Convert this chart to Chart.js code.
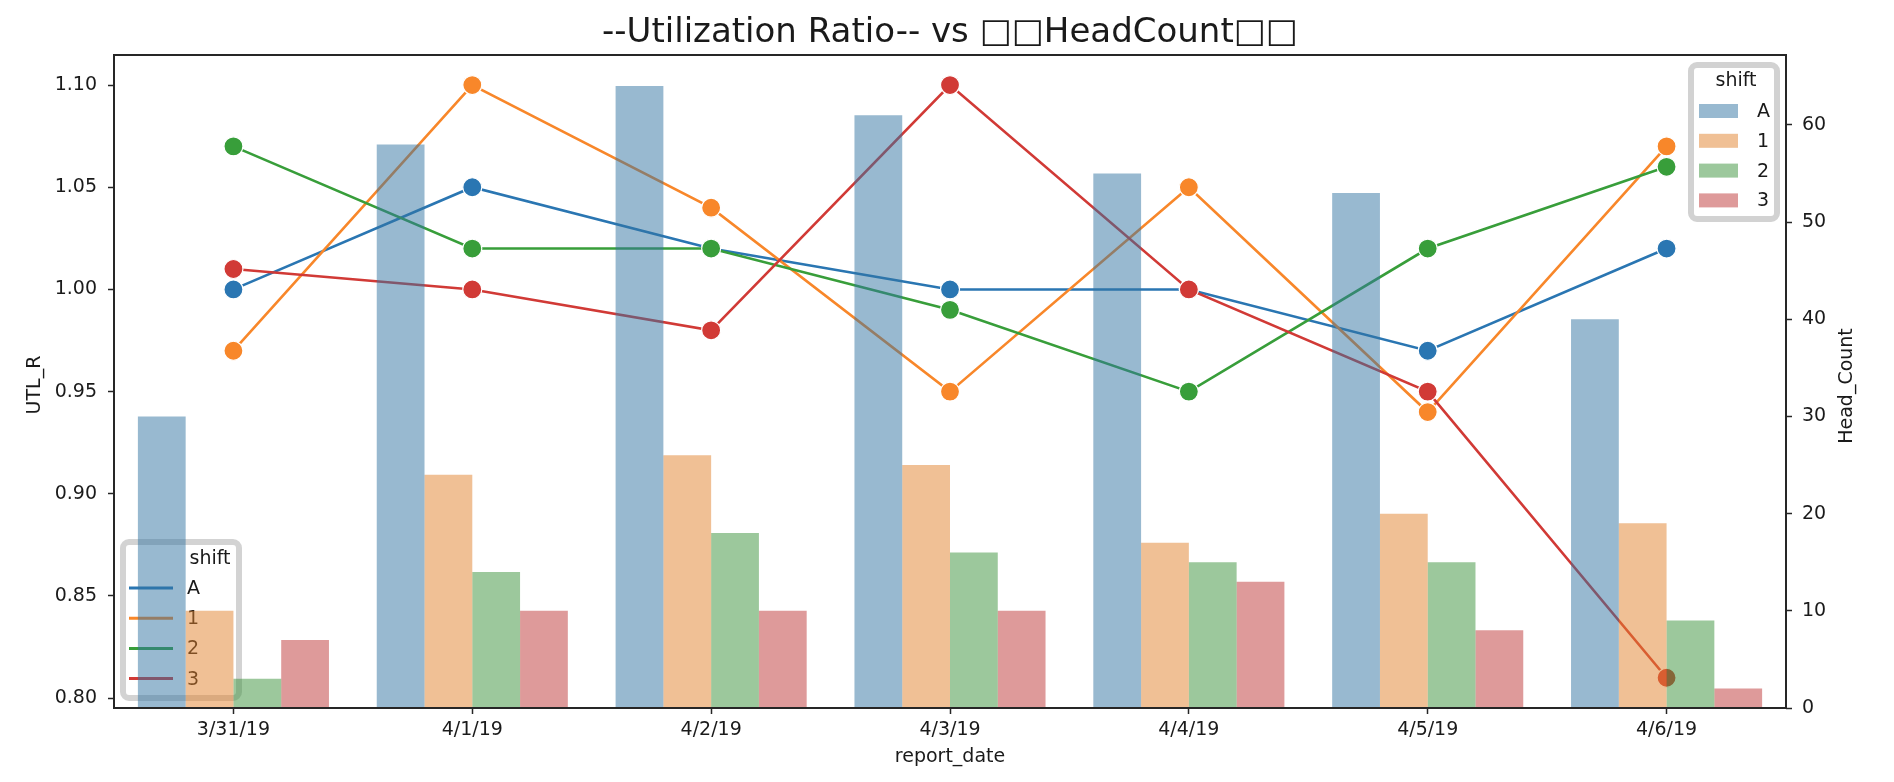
<!DOCTYPE html>
<html>
<head>
<meta charset="utf-8">
<script src="https://cdn.jsdelivr.net/npm/chart.js@4.4.1/dist/chart.umd.min.js"></script>
<style>
  html, body { margin: 0; padding: 0; background: #fff; overflow: hidden; }
  canvas { display: block; }
</style>
</head>
<body>
<canvas id="chart" width="1894" height="782" style="width:1894px;height:782px"></canvas>
<script>
// data
const dates = ['3/31/19', '4/1/19', '4/2/19', '4/3/19', '4/4/19', '4/5/19', '4/6/19'];
const shifts = ['A', '1', '2', '3'];

const headA = [30, 58, 64, 61, 55, 53, 40];
const head1 = [10, 24, 26, 25, 17, 20, 19];
const head2 = [3, 14, 18, 16, 15, 15, 9];
const head3 = [7, 10, 10, 10, 13, 8, 2];

const utlA = [1.00, 1.05, 1.02, 1.00, 1.00, 0.97, 1.02];
const utl1 = [0.97, 1.10, 1.04, 0.95, 1.05, 0.94, 1.07];
const utl2 = [1.07, 1.02, 1.02, 0.99, 0.95, 1.02, 1.06];
const utl3 = [1.01, 1.00, 0.98, 1.10, 1.00, 0.95, 0.81];

const utlTicks = [0.80, 0.85, 0.90, 0.95, 1.00, 1.05, 1.10];
const headTicks = [0, 10, 20, 30, 40, 50, 60];

const lineColors = ['#2a76b2', '#f8872a', '#389e3a', '#d13a36'];
const barColors = ['rgba(50,116,161,0.5)', 'rgba(225,129,44,0.5)', 'rgba(58,146,58,0.5)', 'rgba(192,61,62,0.52)'];

const FONT = '"DejaVu Sans", sans-serif';
const TEXT = '#1a1a1a';
Chart.defaults.font.family = FONT;
Chart.defaults.color = TEXT;

const heads = [headA, head1, head2, head3];
const utls = [utlA, utl1, utl2, utl3];

const datasets = [];
shifts.forEach((s, i) => {
    datasets.push({
        type: 'bar',
        label: s,
        data: heads[i],
        yAxisID: 'y1',
        backgroundColor: barColors[i],
        borderWidth: 0,
        categoryPercentage: 0.8,
        barPercentage: 1.0,
        order: 1 + i
    });
});
shifts.forEach((s, i) => {
    datasets.push({
        type: 'line',
        label: s,
        data: utls[i],
        yAxisID: 'y',
        borderColor: lineColors[i],
        borderWidth: 2.6,
        pointRadius: 9.5,
        pointBackgroundColor: lineColors[i],
        pointBorderColor: '#ffffff',
        pointBorderWidth: 1.2,
        tension: 0,
        fill: false,
        order: 8 - i
    });
});

function roundRect(ctx, x, y, w, h, r) {
    ctx.beginPath();
    ctx.moveTo(x + r, y);
    ctx.arcTo(x + w, y, x + w, y + h, r);
    ctx.arcTo(x + w, y + h, x, y + h, r);
    ctx.arcTo(x, y + h, x, y, r);
    ctx.arcTo(x, y, x + w, y, r);
    ctx.closePath();
}

// line legend sits under the bars, bar legend on top of everything
const legendsPlugin = {
    id: 'legends',
    beforeDatasetsDraw(chart) {
        const ctx = chart.ctx;
        ctx.save();
        roundRect(ctx, 123, 542, 116, 156, 6);
        ctx.fillStyle = 'rgba(255,255,255,0.8)';
        ctx.fill();
        ctx.lineWidth = 6;
        ctx.strokeStyle = 'rgba(200,200,200,0.8)';
        ctx.stroke();
        ctx.font = '19px ' + FONT;
        ctx.fillStyle = TEXT;
        ctx.textBaseline = 'middle';
        ctx.textAlign = 'center';
        ctx.fillText('shift', 210, 559);
        ctx.textAlign = 'left';
        shifts.forEach((s, i) => {
            const y = 588 + i * 30.2;
            ctx.strokeStyle = lineColors[i];
            ctx.lineWidth = 3;
            ctx.beginPath();
            ctx.moveTo(129, y);
            ctx.lineTo(173, y);
            ctx.stroke();
            ctx.fillStyle = TEXT;
            ctx.fillText(s, 187, y + 1);
        });
        ctx.restore();
    },
    afterDatasetsDraw(chart) {
        const ctx = chart.ctx;
        const a = chart.chartArea;
        ctx.save();
        // frame
        ctx.strokeStyle = '#262626';
        ctx.lineWidth = 2;
        ctx.strokeRect(a.left, a.top, a.right - a.left, a.bottom - a.top);

        roundRect(ctx, 1691, 65, 86, 154, 6);
        ctx.fillStyle = '#ffffff';
        ctx.fill();
        ctx.lineWidth = 6;
        ctx.strokeStyle = '#d2d2d2';
        ctx.stroke();
        ctx.font = '19px ' + FONT;
        ctx.fillStyle = TEXT;
        ctx.textBaseline = 'middle';
        ctx.textAlign = 'center';
        ctx.fillText('shift', 1736, 81);
        ctx.textAlign = 'left';
        shifts.forEach((s, i) => {
            const y = 111 + i * 29.8;
            ctx.fillStyle = barColors[i];
            ctx.fillRect(1699, y - 7, 39, 14);
            ctx.fillStyle = TEXT;
            ctx.fillText(s, 1757, y + 1);
        });
        ctx.restore();
    },
    afterDraw(chart) {
        const ctx = chart.ctx;
        ctx.save();
        ctx.fillStyle = TEXT;
        ctx.textAlign = 'center';
        ctx.textBaseline = 'middle';
        ctx.font = '34px ' + FONT;
        ctx.fillText('--Utilization Ratio-- vs \u25A1\u25A1HeadCount\u25A1\u25A1', 950, 33);
        ctx.font = '19px ' + FONT;
        ctx.fillText('report_date', 950, 757);
        ctx.translate(35, 385);
        ctx.rotate(-Math.PI / 2);
        ctx.fillText('UTL_R', 0, 0);
        ctx.restore();
        ctx.save();
        ctx.fillStyle = TEXT;
        ctx.textAlign = 'center';
        ctx.textBaseline = 'middle';
        ctx.font = '19px ' + FONT;
        ctx.translate(1847, 386);
        ctx.rotate(-Math.PI / 2);
        ctx.fillText('Head_Count', 0, 0);
        ctx.restore();
    }
};

const tickGrid = { display: true, drawOnChartArea: false, drawTicks: true, tickLength: 6, tickWidth: 1.5, tickColor: '#262626', offset: false };

new Chart(document.getElementById('chart'), {
    data: { labels: dates, datasets },
    options: {
        responsive: false,
        devicePixelRatio: 1,
        animation: false,
        layout: { padding: { top: 55, left: 0, right: 0, bottom: 0 } },
        plugins: { legend: { display: false }, title: { display: false }, tooltip: { enabled: false } },
        scales: {
            x: {
                type: 'category',
                offset: true,
                grid: tickGrid,
                border: { display: false },
                ticks: { font: { size: 19 }, color: TEXT, padding: 5, maxRotation: 0 },
                afterFit: s => { s.height = 74; }
            },
            y: {
                type: 'linear',
                position: 'left',
                min: 0.7952,
                max: 1.1147,
                grid: tickGrid,
                border: { display: false },
                afterBuildTicks: s => { s.ticks = utlTicks.map(v => ({ value: v })); },
                ticks: { font: { size: 19 }, color: TEXT, padding: 11, callback: v => Number(v).toFixed(2) },
                afterFit: s => { s.width = 114; }
            },
            y1: {
                type: 'linear',
                position: 'right',
                min: 0,
                max: 67.2,
                grid: tickGrid,
                border: { display: false },
                afterBuildTicks: s => { s.ticks = headTicks.map(v => ({ value: v })); },
                ticks: { font: { size: 19 }, color: TEXT, padding: 10 },
                afterFit: s => { s.width = 108; }
            }
        }
    },
    plugins: [legendsPlugin]
});
</script>
</body>
</html>
